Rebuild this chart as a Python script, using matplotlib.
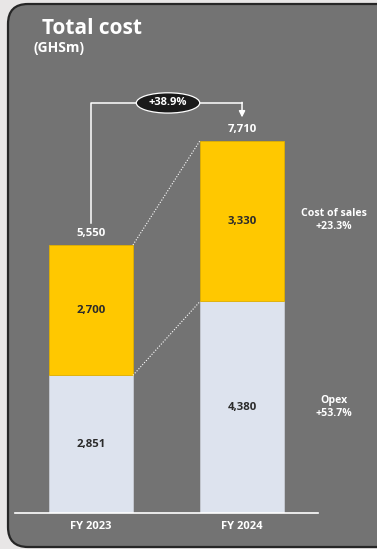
import matplotlib
matplotlib.use("Agg")
import matplotlib.pyplot as plt
from matplotlib.patches import FancyBboxPatch, Ellipse

plt.rcParams['font.family'] = ['Open Sans', 'DejaVu Sans']

# cost breakdown, GHS millions
years = ['FY 2023', 'FY 2024']
opex = [2851, 4380]
cost_of_sales = [2700, 3330]
totals = [5550, 7710]
growth_total = '+38.9%'
segment_notes = ['Cost of sales\n+23.3%', 'Opex\n+53.7%']

panel_grey = '#737373'
yellow = '#FFC800'
light = '#DDE3EE'

W, H = 377, 549
fig = plt.figure(figsize=(W / 100, H / 100), dpi=100)
fig.patch.set_facecolor('#E8E6E6')

# rounded background panel
bg = fig.add_axes([0, 0, 1, 1])
bg.set_xlim(0, W)
bg.set_ylim(H, 0)
bg.axis('off')
bg.add_patch(FancyBboxPatch((8, 4), 400, 543, boxstyle='round,pad=0,rounding_size=20',
                            facecolor=panel_grey, edgecolor='#262626', linewidth=1.6))
bg.text(42, 28, 'Total cost', color='white', fontsize=15, fontweight='bold', va='center')
bg.text(34, 48, '(GHSm)', color='white', fontsize=10, fontweight='bold', va='center')

ax = fig.add_axes([15 / W, (H - 513) / H, 303 / W, 483 / H])
ax.patch.set_alpha(0)
x = [0, 1]
bw = 0.556
ax.bar(x, opex, width=bw, color=light, edgecolor='#C8CCD4', linewidth=0.6)
ax.bar(x, cost_of_sales, width=bw, bottom=opex, color=yellow, edgecolor='#E0B000', linewidth=0.6)
ax.set_xlim(-0.503, 1.503)
ax.set_ylim(0, 10000)

for s in ['top', 'right', 'left']:
    ax.spines[s].set_visible(False)
ax.spines['bottom'].set_color('white')
ax.spines['bottom'].set_linewidth(1.2)
ax.set_yticks([])
ax.set_xticks(x)
ax.set_xticklabels(years, color='white', fontsize=8, fontweight='bold')
ax.tick_params(axis='x', length=0, pad=6)

# values inside the segments
for i in x:
    ax.text(i, opex[i] / 2, f'{opex[i]:,}', ha='center', va='center',
            color='#2b2b2b', fontsize=8.2, fontweight='bold')
    ax.text(i, opex[i] + cost_of_sales[i] / 2, f'{cost_of_sales[i]:,}', ha='center', va='center',
            color='#2b2b2b', fontsize=8.2, fontweight='bold')
    ax.text(i, totals[i] + 120, f'{totals[i]:,}', ha='center', va='bottom',
            color='white', fontsize=8.2, fontweight='bold')

# dotted connectors between the bars
ax.plot([bw / 2, 1 - bw / 2], [totals[0], totals[1]], ls=(0, (1, 1.5)), color='white', lw=0.8)
ax.plot([bw / 2, 1 - bw / 2], [opex[0], opex[1]], ls=(0, (1, 1.5)), color='white', lw=0.8)

# growth bracket with arrow
yb = 8490
ax.plot([0, 0, 1], [6000, yb, yb], color='white', lw=1.1)
ax.annotate('', xy=(1, 8190), xytext=(1, yb + 12),
            arrowprops=dict(arrowstyle='-|>', color='white', lw=1.1, mutation_scale=9,
                            shrinkA=0, shrinkB=0))
ax.add_patch(Ellipse((0.51, yb), 0.42, 420, facecolor='#1a1a1a', edgecolor='white', lw=0.9, zorder=5))
ax.text(0.51, yb, growth_total, ha='center', va='center', color='white',
        fontsize=8, fontweight='bold', zorder=6)

# segment growth notes on the right
ax.text(1.61, 6070, segment_notes[0], ha='center', va='center',
        color='white', fontsize=7.6, fontweight='bold', linespacing=1.3)
ax.text(1.61, 2200, segment_notes[1], ha='center', va='center',
        color='white', fontsize=7.6, fontweight='bold', linespacing=1.3)

fig.savefig('out.png', dpi=100, facecolor=fig.get_facecolor())
